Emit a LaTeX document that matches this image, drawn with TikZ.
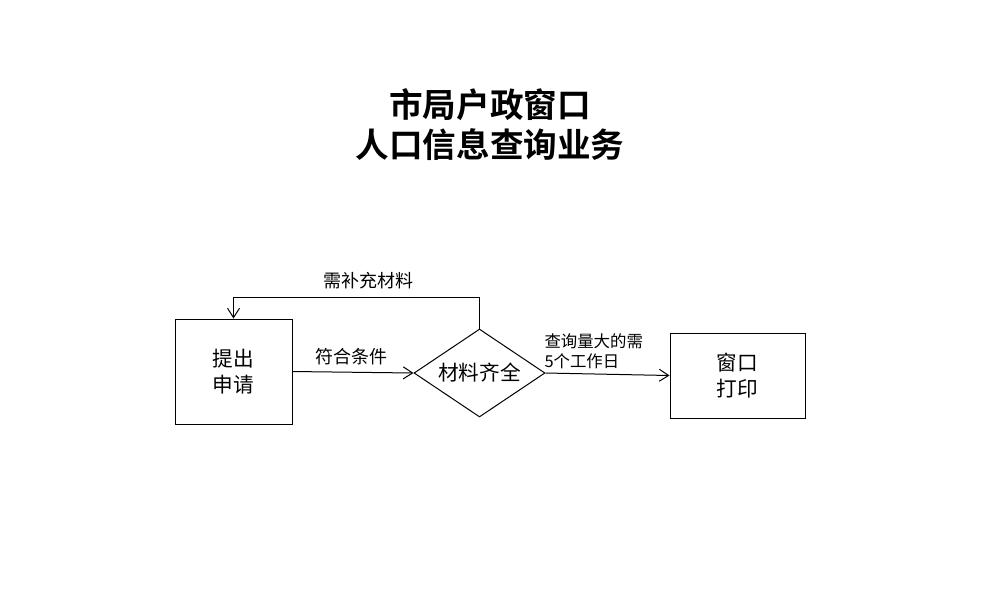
\documentclass[tikz,border=0pt]{standalone}
\usepackage{fontspec}
\setmainfont{Noto Sans CJK SC}
\newfontfamily\cjkbold{Noto Sans CJK SC Bold}
\usetikzlibrary{shapes.geometric,arrows.meta}
\begin{document}
\begin{tikzpicture}[x=0.75pt,y=-0.75pt,
  line width=0.75pt,
  boxnode/.style={draw, inner sep=0pt, align=center, font=\fontsize{15.5}{19.5}\selectfont},
  decide/.style={draw, diamond, aspect=1.49, inner sep=0pt, minimum width=98.25pt, minimum height=66pt, font=\fontsize{15.5}{19.5}\selectfont},
  lbl/.style={inner sep=0pt, font=\fontsize{13.5}{15}\selectfont},
  lblsmall/.style={inner sep=0pt, align=left, font=\fontsize{12.3}{15}\selectfont},
  arr/.style={-{Straight Barb[length=7pt,width=9pt]}}]
\useasboundingbox (0,0) rectangle (984,594);
\node[align=center, inner sep=0pt, font=\cjkbold\fontsize{25.2}{30}\selectfont] (title) at (490,125) {市局户政窗口\\人口信息查询业务};
\node[boxnode, minimum width=87.75pt, minimum height=78.75pt] (b1) at (233.5,371.5) {提出\\申请};
\node[decide] (d) at (479.5,373) {材料齐全};
\node[boxnode, minimum width=101.25pt, minimum height=63.75pt] (b2) at (737.5,375.5) {窗口\\打印};
\coordinate (up) at (479.5,297);
\draw[arr] (b1.east) -- (d.west);
\draw[arr] (d.east) -- (b2.west);
\draw[arr] (d.north) -- (up) -| (b1.north);
\node[lbl] (l1) at (368,281) {需补充材料};
\node[lbl] (l2) at (351,357) {符合条件};
\node[lblsmall, anchor=west] (l3) at (544,351) {查询量大的需\\5个工作日};
\end{tikzpicture}
\end{document}
